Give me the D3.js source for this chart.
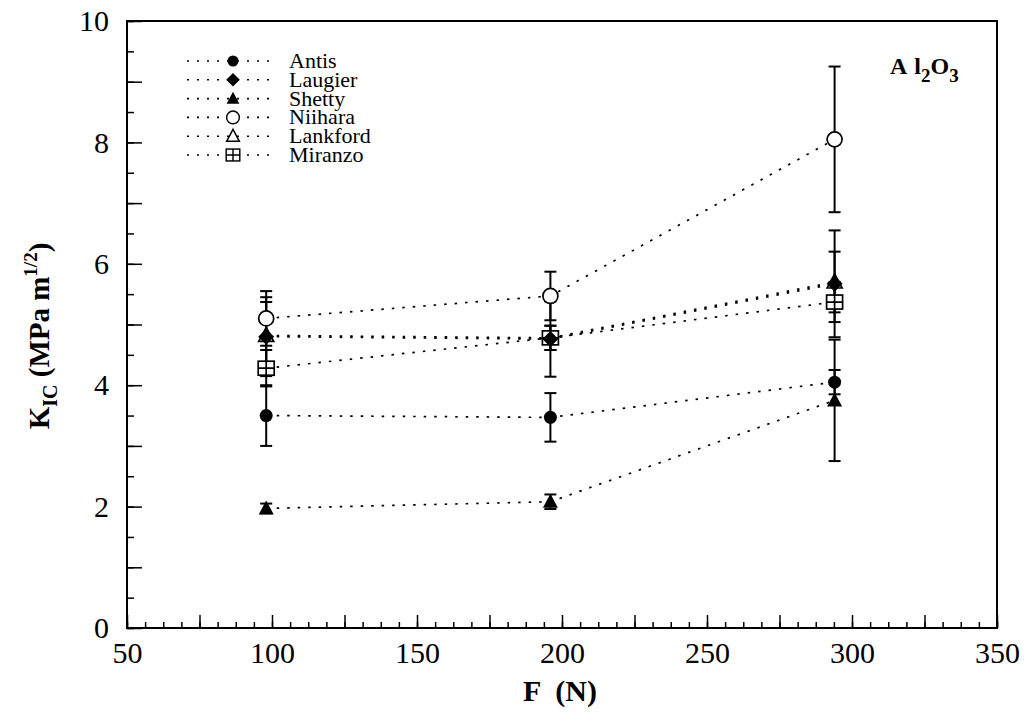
<!DOCTYPE html>
<html>
<head>
<meta charset="utf-8">
<script src="https://cdn.jsdelivr.net/npm/d3@7"></script>
<style>
  body { margin: 0; background: #fff; }
  svg { display: block; font-family: "Liberation Serif", "Times New Roman", serif; }
</style>
</head>
<body>
<div id="chart"></div>
<script>
const forces = [98, 196, 294];
const seriesNames = ["Antis", "Laugier", "Shetty", "Niihara", "Lankford", "Miranzo"];
const antis = [3.5, 3.47, 4.05];
const antisErr = [0.5, 0.4, 0.2];
const laugier = [4.8, 4.76, 5.67];
const laugierErr = [0.65, 0.62, 0.88];
const shetty = [1.97, 2.08, 3.75];
const shettyErr = [0.08, 0.12, 1.0];
const niihara = [5.1, 5.47, 8.05];
const niiharaErr = [0.45, 0.4, 1.2];
const lankford = [4.82, 4.78, 5.7];
const lankfordErr = [0.55, 0.2, 0.5];
const miranzo = [4.28, 4.78, 5.37];
const miranzoErr = [0.3, 0.2, 0.33];
const symbols = ["circle", "diamond", "triangle", "openCircle", "openTriangle", "crossSquare"];
const xTickLabels = [50, 100, 150, 200, 250, 300, 350];
const yTickLabels = [0, 2, 4, 6, 8, 10];

const values = [antis, laugier, shetty, niihara, lankford, miranzo];
const errors = [antisErr, laugierErr, shettyErr, niiharaErr, lankfordErr, miranzoErr];
const series = seriesNames.map((name, i) => ({
    name: name,
    symbol: symbols[i],
    points: forces.map((f, j) => ({ x: f, y: values[i][j], e: errors[i][j] }))
}));

const W = 1028, H = 725;
const margin = { top: 21, right: 31, bottom: 97, left: 127 };
const width = W - margin.left - margin.right;
const height = H - margin.top - margin.bottom;

const svg = d3.select("#chart").append("svg")
    .attr("width", W)
    .attr("height", H);

const g = svg.append("g")
    .attr("transform", `translate(${margin.left},${margin.top})`);

const x = d3.scaleLinear().domain([50, 350]).range([0, width]);
const y = d3.scaleLinear().domain([0, 10]).range([height, 0]);

// minor ticks
g.append("g")
    .attr("transform", `translate(0,${height})`)
    .call(d3.axisBottom(x).tickValues(d3.range(50, 350.1, 6.25)).tickSizeInner(-6).tickSizeOuter(0).tickFormat(""))
    .call(a => a.select(".domain").remove());
g.append("g")
    .call(d3.axisLeft(y).tickValues(d3.range(0, 10.01, 0.5)).tickSizeInner(-7).tickSizeOuter(0).tickFormat(""))
    .call(a => a.select(".domain").remove());

// major ticks + labels
const xAxis = g.append("g")
    .attr("transform", `translate(0,${height})`)
    .call(d3.axisBottom(x).tickValues(d3.range(50, 351, 25)).tickSizeInner(-13).tickSizeOuter(0).tickPadding(14)
        .tickFormat(d => xTickLabels.includes(d) ? d : ""));
xAxis.select(".domain").remove();
xAxis.attr("font-size", 30).attr("font-family", "Liberation Serif");
xAxis.selectAll("text").attr("fill", "#000");

const yAxis = g.append("g")
    .call(d3.axisLeft(y).tickValues(d3.range(0, 10.01, 1)).tickSizeInner(-15).tickSizeOuter(0).tickPadding(18)
        .tickFormat(d => yTickLabels.includes(d) ? d : ""));
yAxis.select(".domain").remove();
yAxis.attr("font-size", 30).attr("font-family", "Liberation Serif");
yAxis.selectAll("text").attr("fill", "#000");

g.selectAll(".tick line").attr("stroke", "#000").attr("stroke-width", 1.5);

// frame
g.append("rect")
    .attr("width", width)
    .attr("height", height)
    .attr("fill", "none")
    .attr("stroke", "#000")
    .attr("stroke-width", 2);

// dotted lines
const line = d3.line().x(d => x(d.x)).y(d => y(d.y));
g.selectAll(".series-line")
    .data(series)
    .enter()
    .append("path")
    .attr("class", "series-line")
    .attr("d", d => line(d.points))
    .attr("fill", "none")
    .attr("stroke", "#000")
    .attr("stroke-width", 1.7)
    .attr("stroke-dasharray", "2.5,8");

// error bars
const allPts = series.flatMap(s => s.points);
const eb = g.selectAll(".err").data(allPts).enter().append("g").attr("class", "err");
eb.append("line")
    .attr("x1", d => x(d.x)).attr("x2", d => x(d.x))
    .attr("y1", d => y(d.y - d.e)).attr("y2", d => y(d.y + d.e))
    .attr("stroke", "#000").attr("stroke-width", 2);
eb.selectAll(".cap")
    .data(d => [d.y - d.e, d.y + d.e].map(v => ({ x: d.x, v: v })))
    .enter()
    .append("line")
    .attr("x1", d => x(d.x) - 6).attr("x2", d => x(d.x) + 6)
    .attr("y1", d => y(d.v)).attr("y2", d => y(d.v))
    .attr("stroke", "#000").attr("stroke-width", 2);

function drawMarker(sel, symbol) {
    if (symbol === "circle") {
        sel.append("circle").attr("r", 6.5).attr("fill", "#000");
    } else if (symbol === "openCircle") {
        sel.append("circle").attr("r", 7.5).attr("fill", "#fff").attr("stroke", "#000").attr("stroke-width", 1.7);
    } else if (symbol === "diamond") {
        sel.append("path").attr("d", "M0,-8L8,0L0,8L-8,0Z").attr("fill", "#000");
    } else if (symbol === "triangle") {
        sel.append("path").attr("d", "M0,-8L7.5,6L-7.5,6Z").attr("fill", "#000");
    } else if (symbol === "openTriangle") {
        sel.append("path").attr("d", "M0,-8L7.5,6L-7.5,6Z").attr("fill", "#fff").attr("stroke", "#000").attr("stroke-width", 1.7);
    } else if (symbol === "crossSquare") {
        sel.append("rect").attr("x", -8).attr("y", -7).attr("width", 16).attr("height", 14)
            .attr("fill", "#fff").attr("stroke", "#000").attr("stroke-width", 1.7);
        sel.append("path").attr("d", "M0,-7V7M-8,0H8").attr("stroke", "#000").attr("stroke-width", 1.7);
    }
}

// markers: draw open ones first so filled ones sit on top like in the print
const drawOrder = [4, 5, 3, 0, 2, 1];
drawOrder.forEach(i => {
    const s = series[i];
    g.selectAll(`.m${i}`)
        .data(s.points)
        .enter()
        .append("g")
        .attr("class", `m${i}`)
        .attr("transform", d => `translate(${x(d.x)},${y(d.y)})`)
        .each(function () { drawMarker(d3.select(this), s.symbol); });
});

// legend
const legend = svg.append("g").attr("transform", "translate(187,61)");
series.forEach((s, i) => {
    const row = legend.append("g").attr("transform", `translate(0,${i * 18.8})`);
    row.append("line")
        .attr("x1", 0).attr("x2", 90)
        .attr("stroke", "#000").attr("stroke-width", 1.6).attr("stroke-dasharray", "2,8");
    const m = row.append("g").attr("transform", "translate(46,0) scale(0.85)");
    drawMarker(m, s.symbol);
    row.append("text")
        .attr("x", 102).attr("y", 7)
        .attr("font-size", 22)
        .text(s.name);
});

// Al2O3 label
const al = svg.append("text")
    .attr("x", 890).attr("y", 74)
    .attr("font-size", 24)
    .attr("font-weight", "bold");
al.append("tspan").text("A");
al.append("tspan").attr("dx", 7).text("l");
al.append("tspan").attr("dy", 8).attr("font-size", 19).text("2");
al.append("tspan").attr("dy", -8).text("O");
al.append("tspan").attr("dy", 8).attr("font-size", 19).text("3");

// axis titles
svg.append("text")
    .attr("x", 560).attr("y", 701)
    .attr("text-anchor", "middle")
    .attr("font-size", 30)
    .attr("font-weight", "bold")
    .style("white-space", "pre")
    .text("F  (N)");

const yt = svg.append("text")
    .attr("transform", "translate(49,336) rotate(-90)")
    .attr("text-anchor", "middle")
    .attr("font-size", 29)
    .attr("font-weight", "bold")
    .style("white-space", "pre");
yt.append("tspan").text("K");
yt.append("tspan").attr("dy", 8).attr("font-size", 20).text("IC");
yt.append("tspan").attr("dy", -8).text(" (MPa m");
yt.append("tspan").attr("dy", -12).attr("font-size", 19).text("1/2");
yt.append("tspan").attr("dy", 12).text(")");
</script>
</body>
</html>
